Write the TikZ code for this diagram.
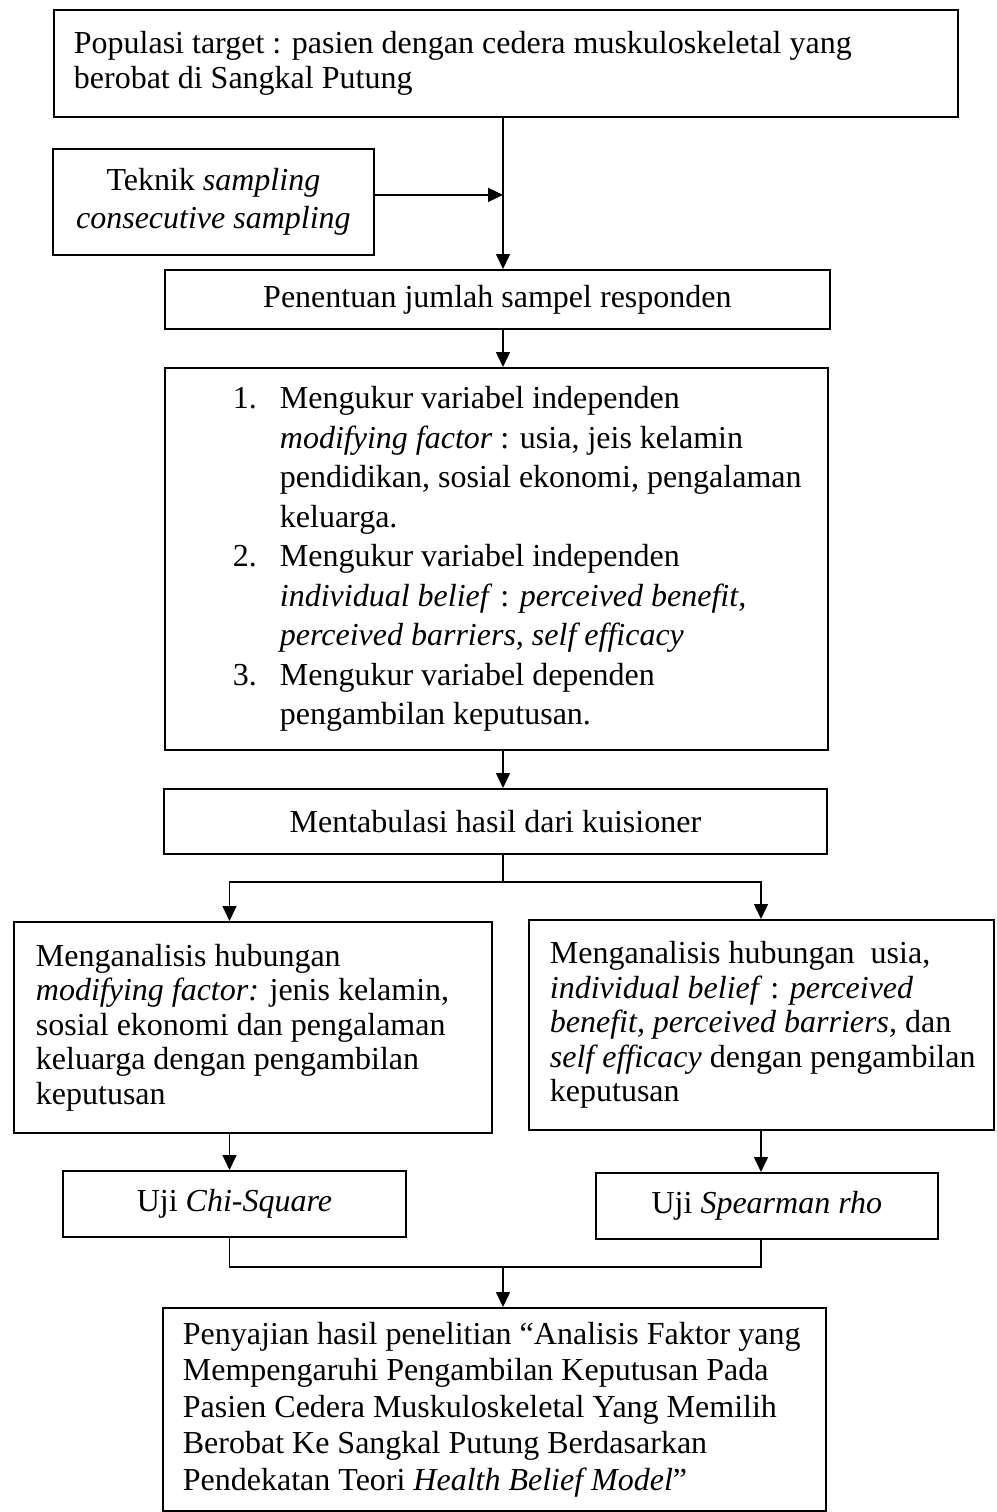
\documentclass[tikz,border=0pt]{standalone}
\usepackage{fontspec}
\setmainfont{Liberation Serif}
\usetikzlibrary{arrows.meta, calc, positioning}

\begin{document}
\begin{tikzpicture}[
x=0.5pt, y=-0.5pt,
flowbox/.style = {draw=black, line width=0.9pt, anchor=north west, inner sep=0pt},
leftbox/.style = {flowbox, align=flush left},
centrebox/.style = {flowbox, align=center},
bodytext/.style = {font=\fontsize{16}{17.5}\selectfont},
flowline/.style = {draw=black, line width=0.75pt},
flowarrow/.style = {flowline, -{Triangle[length=7.5pt, width=7pt]}}
]
\useasboundingbox (0,0) rectangle (997,1512);

\node[leftbox, bodytext, text width=452pt, minimum height=53.5pt] (popul) at (53,9)
{\leftskip=10pt Populasi target : pasien dengan cedera muskuloskeletal yang\\
berobat di Sangkal Putung\par};
\node[centrebox, font=\fontsize{16}{19}\selectfont, minimum width=160.5pt, minimum height=53pt] (teknik) at (52,148)
{Teknik \textit{sampling}\\
\textit{consecutive sampling}};
\node[centrebox, bodytext, minimum width=332.5pt, minimum height=29.5pt] (penentuan) at (164,269)
{Penentuan jumlah sampel responden};
\node[leftbox, font=\fontsize{16}{19.75}\selectfont, text width=331.5pt, minimum height=191pt] (ukur) at (164,367)
{\hspace*{34pt}\makebox[23.5pt][l]{1.}Mengukur variabel independen\\
\hspace*{57.5pt}\textit{modifying factor} : usia, jeis kelamin\\
\hspace*{57.5pt}pendidikan, sosial ekonomi, pengalaman\\
\hspace*{57.5pt}keluarga.\\
\hspace*{34pt}\makebox[23.5pt][l]{2.}Mengukur variabel independen\\
\hspace*{57.5pt}\textit{individual belief} : \textit{perceived benefit,}\\
\hspace*{57.5pt}\textit{perceived barriers, self efficacy}\\
\hspace*{34pt}\makebox[23.5pt][l]{3.}Mengukur variabel dependen\\
\hspace*{57.5pt}pengambilan keputusan.};
\node[centrebox, bodytext, minimum width=331.5pt, minimum height=32.5pt] (tabulasi) at (163,788)
{Mentabulasi hasil dari kuisioner};
\node[leftbox, font=\fontsize{16}{17.25}\selectfont, text width=239pt, minimum height=105.5pt] (kiri) at (13,921)
{\leftskip=11pt Menganalisis hubungan\\
\textit{modifying factor:} jenis kelamin,\\
sosial ekonomi dan pengalaman\\
keluarga dengan pengambilan\\
keputusan\par};
\node[leftbox, font=\fontsize{16}{17.25}\selectfont, text width=232.5pt, minimum height=105pt] (kanan) at (528,919)
{\leftskip=10.5pt Menganalisis hubungan\ \ usia,\\
\textit{individual belief} : \textit{perceived}\\
\textit{benefit, perceived barriers,} dan\\
\textit{self efficacy} dengan pengambilan\\
keputusan\par};
\node[centrebox, bodytext, minimum width=171.5pt, minimum height=33pt] (chi) at (62,1170)
{Uji \textit{Chi-Square}};
\node[centrebox, bodytext, minimum width=171pt, minimum height=33pt] (spear) at (595,1172)
{Uji \textit{Spearman rho}};
\node[leftbox, font=\fontsize{16}{18.25}\selectfont, text width=331.5pt, minimum height=101.5pt] (hasil) at (162,1307)
{\leftskip=10pt Penyajian hasil penelitian “Analisis Faktor yang\\
Mempengaruhi Pengambilan Keputusan Pada\\
Pasien Cedera Muskuloskeletal Yang Memilih\\
Berobat Ke Sangkal Putung Berdasarkan\\
Pendekatan Teori \textit{Health Belief Model}”\par};

\coordinate (spine) at (503,0);
\coordinate (colL) at (229.5,0);
\coordinate (colR) at (761,0);
\coordinate (fork) at (503,882);
\coordinate (merge) at (503,1267);

\draw[flowarrow] (popul.south -| spine) -- (penentuan.north -| spine);
\draw[flowarrow] ([yshift=3.5pt]teknik.east) -- ([yshift=3.5pt]teknik.east -| spine);
\draw[flowarrow] (penentuan.south -| spine) -- (ukur.north -| spine);
\draw[flowarrow] (ukur.south -| spine) -- (tabulasi.north -| spine);
\draw[flowline] (tabulasi.south -| spine) -- (fork);
\draw[flowarrow] (fork) -| (kiri.north -| colL);
\draw[flowarrow] (fork) -| (kanan.north -| colR);
\draw[flowarrow] (kiri.south -| colL) -- (chi.north -| colL);
\draw[flowarrow] (kanan.south -| colR) -- (spear.north -| colR);
\draw[flowline] (chi.south -| colL) |- (merge) -| (spear.south -| colR);
\draw[flowarrow] (merge) -- (hasil.north -| spine);
\end{tikzpicture}
\end{document}
